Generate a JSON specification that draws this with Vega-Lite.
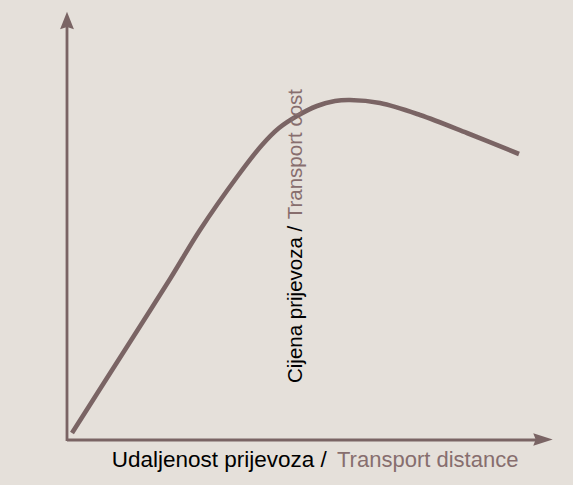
{
  "$schema": "https://vega.github.io/schema/vega-lite/v6.json",
  "width": 573,
  "height": 485,
  "autosize": {"type": "fit", "contains": "padding"},
  "padding": 0,
  "background": "#e5e0da",
  "config": {"view": {"stroke": null}},
  "datasets": {
    "axes": [
      {"x": 0, "y": -1, "x2": 0, "y2": 414},
      {"x": 0, "y": 0, "x2": 470, "y2": 0}
    ],
    "curve": [
      {"x": 5, "y": 7},
      {"x": 33, "y": 51},
      {"x": 63, "y": 98},
      {"x": 103, "y": 161},
      {"x": 133, "y": 210},
      {"x": 170, "y": 263},
      {"x": 195, "y": 295},
      {"x": 212, "y": 312},
      {"x": 230, "y": 324},
      {"x": 250, "y": 334},
      {"x": 268, "y": 339},
      {"x": 283, "y": 340},
      {"x": 313, "y": 337},
      {"x": 353, "y": 325},
      {"x": 400, "y": 307},
      {"x": 452, "y": 286}
    ],
    "arrowUp": [{"x": 0, "y": 419.5}],
    "arrowRight": [{"x": 476, "y": 0.5}],
    "yLabelA": [{"x": 234.5, "y": 57, "label": "Cijena prijevoza / "}],
    "yLabelB": [{"x": 234.5, "y": 351, "label": "Transport cost"}],
    "xLabelA": [{"x": 44.7, "y": -26.5, "label": "Udaljenost prijevoza / "}],
    "xLabelB": [{"x": 270, "y": -26.5, "label": "Transport distance"}]
  },
  "encoding": {
    "x": {"field": "x", "type": "quantitative", "scale": {"domain": [-67, 506], "nice": false, "zero": false}, "axis": null},
    "y": {"field": "y", "type": "quantitative", "scale": {"domain": [-45, 440], "nice": false, "zero": false}, "axis": null}
  },
  "layer": [
    {
      "data": {"name": "axes"},
      "mark": {"type": "rule", "color": "#7a6464", "strokeWidth": 2.8},
      "encoding": {"x2": {"field": "x2"}, "y2": {"field": "y2"}}
    },
    {
      "data": {"name": "arrowUp"},
      "mark": {"type": "point", "filled": true, "opacity": 1, "color": "#7a6464", "shape": "M0,-1L0.8,1L0,0.75L-0.8,1Z", "size": 300}
    },
    {
      "data": {"name": "arrowRight"},
      "mark": {"type": "point", "filled": true, "opacity": 1, "color": "#7a6464", "shape": "M1,0L-1,0.65L-0.75,0L-1,-0.65Z", "size": 380}
    },
    {
      "data": {"name": "curve"},
      "mark": {"type": "line", "color": "#7a6464", "strokeWidth": 4.6, "interpolate": "catmull-rom", "strokeCap": "butt"}
    },
    {
      "data": {"name": "yLabelA"},
      "mark": {"type": "text", "angle": 270, "align": "left", "baseline": "alphabetic", "font": "Liberation Sans", "fontSize": 20.5, "color": "#000000"},
      "encoding": {"text": {"field": "label"}}
    },
    {
      "data": {"name": "yLabelB"},
      "mark": {"type": "text", "angle": 270, "align": "right", "baseline": "alphabetic", "font": "Liberation Sans", "fontSize": 20.5, "color": "#876e6e"},
      "encoding": {"text": {"field": "label"}}
    },
    {
      "data": {"name": "xLabelA"},
      "mark": {"type": "text", "align": "left", "baseline": "alphabetic", "font": "Liberation Sans", "fontSize": 22.5, "color": "#000000"},
      "encoding": {"text": {"field": "label"}}
    },
    {
      "data": {"name": "xLabelB"},
      "mark": {"type": "text", "align": "left", "baseline": "alphabetic", "font": "Liberation Sans", "fontSize": 22, "color": "#876e6e"},
      "encoding": {"text": {"field": "label"}}
    }
  ]
}
